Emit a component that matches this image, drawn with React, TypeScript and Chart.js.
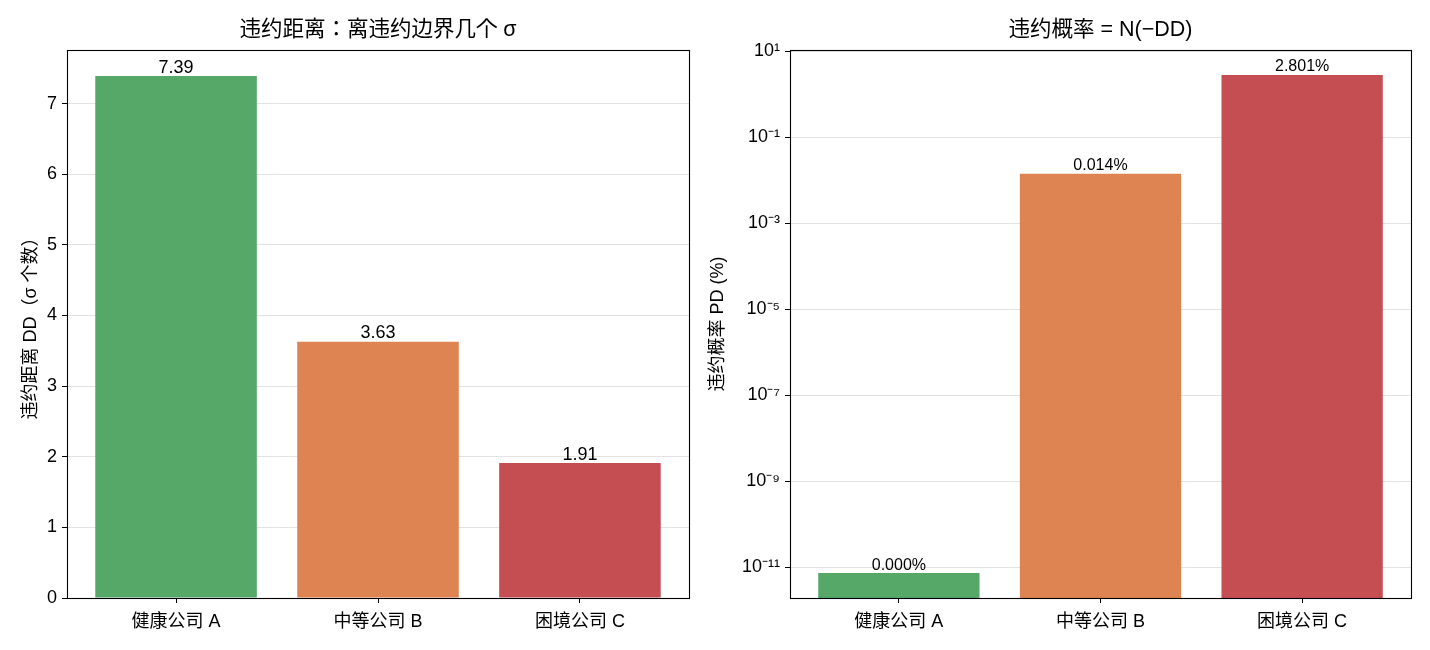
import React, { useEffect, useRef } from "react";
import { Chart, registerables } from "chart.js";

Chart.register(...registerables);

// ---- data ----
const categories = ["健康公司 A", "中等公司 B", "困境公司 C"];
const ddValues = [7.39, 3.63, 1.91];
const pdPercentValues = [7.4e-12, 0.0142, 2.801];
const barColors = ["#55A868", "#DD8452", "#C44E52"];
const ddTicks = [0, 1, 2, 3, 4, 5, 6, 7];
const pdTickExponents = [1, -1, -3, -5, -7, -9, -11];
const chartTitles = ["违约距离：离违约边界几个 σ", "违约概率 = N(−DD)"];
const yAxisTitles = ["违约距离 DD（σ 个数）", "违约概率 PD (%)"];
const ddLabels = ddValues.map((v) => v.toFixed(2));
const pdLabels = pdPercentValues.map((v) => v.toFixed(3) + "%");

const FONT = "'Liberation Sans', 'Noto Sans CJK SC', sans-serif";
const TITLE_FONT = "'Liberation Sans', 'Noto Sans CJK JP', 'Noto Sans CJK SC', sans-serif";
const GRID = "rgba(176,176,176,0.35)";

const SUP: Record<string, string> = {
  "-": "⁻", "0": "⁰", "1": "¹", "2": "²", "3": "³", "4": "⁴",
  "5": "⁵", "6": "⁶", "7": "⁷", "8": "⁸", "9": "⁹",
};
const sup = (n: number) => String(n).split("").map((c) => SUP[c] ?? c).join("");

const framePlugin = {
  id: "frame",
  afterDraw(chart: any) {
    const { ctx, chartArea: a } = chart;
    ctx.save();
    ctx.strokeStyle = "#000";
    ctx.lineWidth = 1.1;
    ctx.strokeRect(Math.round(a.left) + 0.5, Math.round(a.top) + 0.5, Math.round(a.right - a.left), Math.round(a.bottom - a.top));
    ctx.restore();
  },
};

// axes-centred title, like matplotlib's ax.set_title
const makeTitlePlugin = (text: string) => ({
  id: "axesTitle",
  afterDraw(chart: any) {
    const { ctx, chartArea: a } = chart;
    ctx.save();
    ctx.font = `21.5px ${TITLE_FONT}`;
    ctx.fillStyle = "#000";
    ctx.textAlign = "center";
    ctx.textBaseline = "middle";
    ctx.fillText(text, (a.left + a.right) / 2, 30);
    ctx.restore();
  },
});

const makeLabelPlugin = (texts: string[], size: number) => ({
  id: "valueLabels",
  afterDraw(chart: any) {
    const { ctx } = chart;
    const meta = chart.getDatasetMeta(0);
    ctx.save();
    ctx.font = `${size}px ${FONT}`;
    ctx.fillStyle = "#000";
    ctx.textAlign = "center";
    ctx.textBaseline = "alphabetic";
    meta.data.forEach((el: any, i: number) => {
      ctx.fillText(texts[i], el.x, el.y - 3.5);
    });
    ctx.restore();
  },
});

const xScale = () => ({
  type: "linear" as const,
  offset: false,
  min: -0.54,
  max: categories.length - 1 + 0.54,
  afterBuildTicks: (s: any) => {
    s.ticks = categories.map((_, i) => ({ value: i }));
  },
  ticks: {
    callback: (v: any) => categories[Math.round(v)] ?? "",
    color: "#000",
    font: { family: FONT, size: 18 },
    padding: 8,
    maxRotation: 0,
    autoSkip: false,
  },
  grid: { display: true, drawOnChartArea: false, tickColor: "#000", tickLength: 5, offset: false },
  border: { display: false },
  afterFit: (s: any) => {
    s.height = 52;
  },
});

export default function App() {
  const leftRef = useRef<HTMLCanvasElement>(null);
  const rightRef = useRef<HTMLCanvasElement>(null);

  useEffect(() => {
    const ddMax = Math.max(...ddValues) * 1.05;
    const logs = pdPercentValues.map((v) => Math.log10(v));
    const lMin = Math.min(...logs);
    const lMax = Math.max(...logs);
    const margin = (lMax - lMin) * 0.05;

    const dataset = (vals: number[]) => ({
      data: vals.map((v, i) => ({ x: i, y: v })),
      backgroundColor: barColors,
      borderWidth: 0,
      barPercentage: 0.8,
      categoryPercentage: 1,
    });

    const left = new Chart(leftRef.current!, {
      type: "bar",
      data: { datasets: [dataset(ddValues)] },
      options: {
        animation: false,
        responsive: false,
        layout: { padding: { left: 0, right: 26, top: 50, bottom: 0 } },
        plugins: {
          legend: { display: false },
          tooltip: { enabled: false },
          title: { display: false },
        },
        scales: {
          x: xScale(),
          y: {
            type: "linear",
            min: 0,
            max: ddMax,
            z: 1,
            afterBuildTicks: (s: any) => {
              s.ticks = ddTicks.map((v) => ({ value: v }));
            },
            ticks: { color: "#000", font: { family: FONT, size: 18 }, padding: 5 },
            grid: { color: GRID, tickColor: "#000", tickLength: 5, lineWidth: 1 },
            border: { display: false },
            title: {
              display: true,
              text: yAxisTitles[0],
              color: "#000",
              font: { family: FONT, size: 18 },
              padding: { top: 20, bottom: 0 },
            },
            afterFit: (s: any) => {
              s.width = 67;
            },
          },
        },
      } as any,
      plugins: [framePlugin, makeTitlePlugin(chartTitles[0]), makeLabelPlugin(ddLabels, 18)],
    });

    const right = new Chart(rightRef.current!, {
      type: "bar",
      data: { datasets: [dataset(pdPercentValues)] },
      options: {
        animation: false,
        responsive: false,
        layout: { padding: { left: 0, right: 19, top: 50, bottom: 0 } },
        plugins: {
          legend: { display: false },
          tooltip: { enabled: false },
          title: { display: false },
        },
        scales: {
          x: xScale(),
          y: {
            type: "logarithmic",
            min: Math.pow(10, lMin - margin),
            max: Math.pow(10, lMax + margin),
            z: 1,
            afterBuildTicks: (s: any) => {
              s.ticks = pdTickExponents.map((e) => ({ value: Math.pow(10, e) }));
            },
            ticks: {
              color: "#000",
              font: { family: FONT, size: 18 },
              padding: 5,
              autoSkip: false,
              callback: (v: any) => "10" + sup(Math.round(Math.log10(v))),
            },
            grid: { color: GRID, tickColor: "#000", tickLength: 5, lineWidth: 1 },
            border: { display: false },
            title: {
              display: true,
              text: yAxisTitles[1],
              color: "#000",
              font: { family: FONT, size: 18 },
              padding: { top: 7, bottom: 0 },
            },
            afterFit: (s: any) => {
              s.width = 90;
            },
          },
        },
      } as any,
      plugins: [framePlugin, makeTitlePlugin(chartTitles[1]), makeLabelPlugin(pdLabels, 16)],
    });

    return () => {
      left.destroy();
      right.destroy();
    };
  }, []);

  return (
    <div style={{ position: "absolute", left: 0, top: 0, width: 1430, height: 650, background: "#fff" }}>
      <canvas ref={leftRef} width={715} height={650} style={{ position: "absolute", left: 0, top: 0, width: 715, height: 650 }} />
      <canvas ref={rightRef} width={730} height={650} style={{ position: "absolute", left: 700, top: 0, width: 730, height: 650 }} />
    </div>
  );
}
